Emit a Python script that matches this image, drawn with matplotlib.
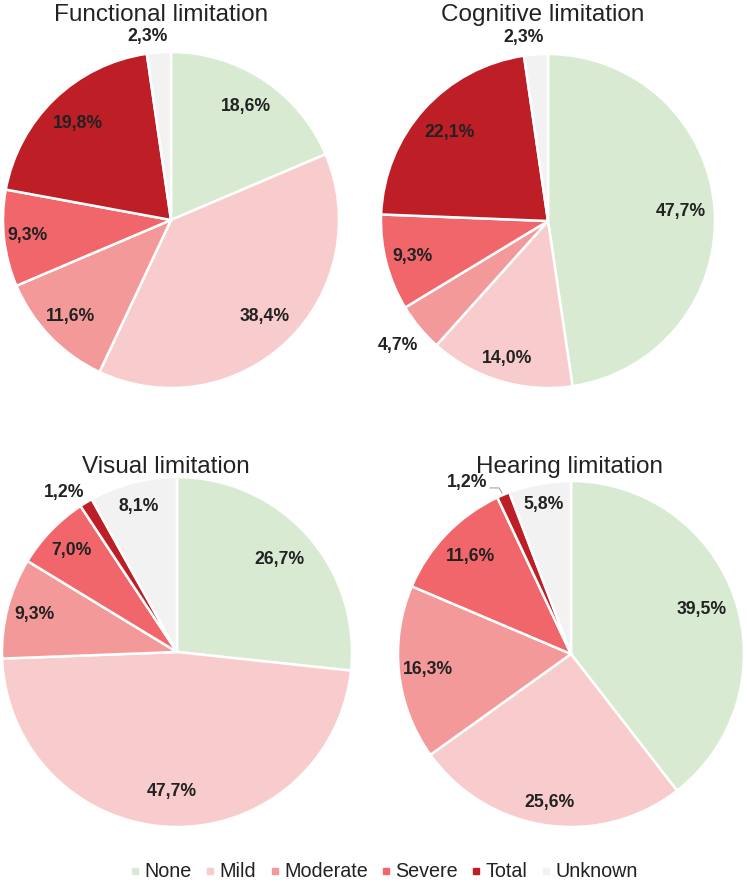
import numpy as np
import matplotlib
matplotlib.use('Agg')
import matplotlib.pyplot as plt
from matplotlib.lines import Line2D

plt.rcParams['font.family'] = ['Liberation Sans', 'DejaVu Sans']

categories = ['None', 'Mild', 'Moderate', 'Severe', 'Total', 'Unknown']
functional = [18.6, 38.4, 11.6, 9.3, 19.8, 2.3]
cognitive = [47.7, 14.0, 4.7, 9.3, 22.1, 2.3]
visual = [26.7, 47.7, 9.3, 7.0, 1.2, 8.1]
hearing = [39.5, 25.6, 16.3, 11.6, 1.2, 5.8]
titles = ['Functional limitation', 'Cognitive limitation', 'Visual limitation', 'Hearing limitation']

colors = ['#d9ead3', '#f8cbcd', '#f49999', '#f0666a', '#be1e26', '#f2f2f2']
txt = '#222222'

W, H = 747, 884
fig = plt.figure(figsize=(W / 100, H / 100), dpi=100)

# centre x, centre y, radius (px), title x, title baseline y
layout = [
    (171, 220, 168, 161, 21),
    (548, 221, 167, 543, 21),
    (177, 652, 175, 166, 473),
    (571, 654, 173, 569, 473),
]
# label distance (in radii) and angle nudge (deg) per slice
label_dist = [
    [0.81, 0.80, 0.83, 0.86, 0.80, 1.10],
    [0.80, 0.86, 1.17, 0.84, 0.79, 1.11],
    [0.79, 0.80, 0.84, 0.84, 1.12, 0.86],
    [0.80, 0.87, 0.83, 0.81, 1.16, 0.88],
]
label_nudge = [
    [0, 0, 0, 0, 0, 3],
    [0, 0, 0, 0, 0, 3.5],
    [0, 0, 0, 0, 4, 0],
    [0, 0, 0, 0, 8, 0],
]

def fmt(v):
    return f'{v:.1f}'.replace('.', ',') + '%'

for i, vals in enumerate([functional, cognitive, visual, hearing]):
    cx, cy, r, tx, ty = layout[i]
    ax = fig.add_axes([(cx - r) / W, 1 - (cy + r) / H, 2 * r / W, 2 * r / H])
    ax.pie(vals, colors=colors, startangle=90, counterclock=False, radius=1,
           wedgeprops=dict(edgecolor='white', linewidth=1.8))
    ax.set_xlim(-1, 1)
    ax.set_ylim(-1, 1)
    cum = np.cumsum([0] + vals)
    tot = cum[-1]
    for j, v in enumerate(vals):
        mid = 90 - 360 * (cum[j] + v / 2) / tot + label_nudge[i][j]
        d = label_dist[i][j]
        ax.text(d * np.cos(np.radians(mid)), d * np.sin(np.radians(mid)), fmt(v),
                ha='center', va='center', fontsize=12.7, fontweight='bold',
                color=txt, clip_on=False)
    if i == 3:
        # leader line for the small "Total" slice
        ax.plot([-0.468, -0.416, -0.399], [0.960, 0.960, 0.931],
                color='#a6a6a6', lw=0.8, clip_on=False)
    fig.text(tx / W, 1 - ty / H, titles[i], ha='center', va='baseline',
             fontsize=17.5, color=txt)

handles = [Line2D([0], [0], marker='s', linestyle='none', markersize=4.5,
                  markerfacecolor=c, markeredgecolor=c) for c in colors]
fig.legend(handles, categories, loc='lower center', bbox_to_anchor=(0.515, -0.006),
           ncol=6, frameon=False, fontsize=14.2, handlelength=0.35,
           handletextpad=0.3, columnspacing=0.75, labelcolor=txt,
           borderaxespad=0.0)

fig.savefig('out.png', dpi=100)
